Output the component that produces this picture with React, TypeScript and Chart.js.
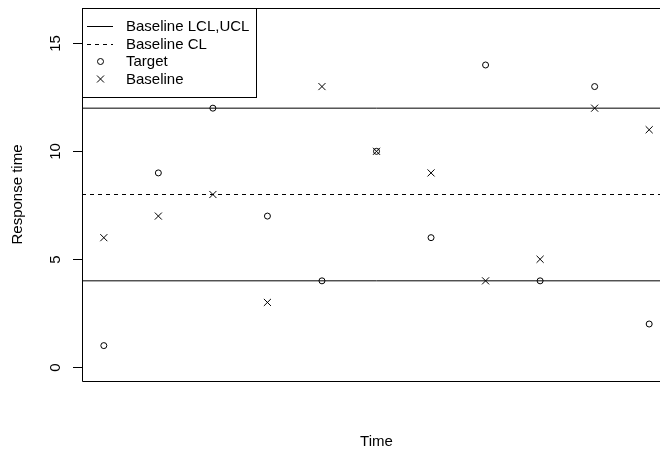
import React, { useEffect, useRef } from "react";
import { Chart, registerables } from "chart.js";

Chart.register(...registerables);

// ---- data ----
const timePoints = [1, 2, 3, 4, 5, 6, 7, 8, 9, 10, 11];
const targetValues = [1, 9, 12, 7, 4, 10, 6, 14, 4, 13, 2];
const baselineValues = [6, 7, 8, 3, 13, 10, 9, 4, 5, 12, 11];
const baselineLCL = 4;
const baselineCL = 8;
const baselineUCL = 12;
const yTickValues = [0, 5, 10, 15];
const legendLabels = ["Baseline LCL,UCL", "Baseline CL", "Target", "Baseline"];
const xAxisTitle = "Time";
const yAxisTitle = "Response time";

const X_MIN = 0.6;
const X_MAX = 11.4;
const Y_MIN = -0.64;
const Y_MAX = 16.64;

const FONT = '15px "Liberation Sans", Arial, Helvetica, sans-serif';

const rPlotPlugin = {
  id: "rPlot",
  afterDatasetsDraw(chart: any) {
    const { ctx, chartArea, scales } = chart;
    const ys = scales.y;
    ctx.save();
    // plot box
    ctx.strokeStyle = "#000";
    ctx.lineWidth = 1;
    ctx.beginPath();
    ctx.rect(
      Math.round(chartArea.left) + 0.5,
      Math.round(chartArea.top) + 0.5,
      chartArea.right - chartArea.left,
      Math.round(chartArea.bottom) - Math.round(chartArea.top)
    );
    ctx.stroke();

    // y ticks + labels
    ctx.font = FONT;
    ctx.fillStyle = "#000";
    for (const v of yTickValues) {
      const py = Math.round(ys.getPixelForValue(v)) + 0.5;
      ctx.beginPath();
      ctx.moveTo(chartArea.left - 9, py);
      ctx.lineTo(chartArea.left, py);
      ctx.stroke();
      ctx.save();
      ctx.translate(chartArea.left - 26, py);
      ctx.rotate(-Math.PI / 2);
      ctx.textAlign = "center";
      ctx.textBaseline = "middle";
      ctx.fillText(String(v), 0, 0);
      ctx.restore();
    }

    // axis titles
    ctx.save();
    ctx.translate(18, (chartArea.top + chartArea.bottom) / 2);
    ctx.rotate(-Math.PI / 2);
    ctx.textAlign = "center";
    ctx.textBaseline = "middle";
    ctx.fillText(yAxisTitle, 0, 0);
    ctx.restore();

    ctx.textAlign = "center";
    ctx.textBaseline = "middle";
    ctx.fillText(xAxisTitle, (chartArea.left + chartArea.right) / 2, 442);

    // legend
    const lx = Math.round(chartArea.left) + 0.5;
    const ly = Math.round(chartArea.top) + 0.5;
    const lw = 174;
    const lh = 89;
    ctx.fillStyle = "#fff";
    ctx.fillRect(lx, ly, lw, lh);
    ctx.strokeStyle = "#000";
    ctx.strokeRect(lx, ly, lw, lh);
    const rowY = [26, 44, 61.5, 79];
    ctx.fillStyle = "#000";
    ctx.textAlign = "left";
    ctx.textBaseline = "middle";
    legendLabels.forEach((label, i) => {
      const y = rowY[i];
      ctx.fillText(label, 126, y + 0.5);
      ctx.strokeStyle = "#000";
      ctx.lineWidth = 1;
      if (i === 0 || i === 1) {
        ctx.setLineDash(i === 1 ? [4, 4] : []);
        ctx.beginPath();
        ctx.moveTo(87, Math.round(y) + 0.5);
        ctx.lineTo(113, Math.round(y) + 0.5);
        ctx.stroke();
        ctx.setLineDash([]);
      } else if (i === 2) {
        ctx.beginPath();
        ctx.arc(100.5, y, 3, 0, Math.PI * 2);
        ctx.stroke();
      } else {
        ctx.beginPath();
        ctx.moveTo(97, y - 3.5);
        ctx.lineTo(104, y + 3.5);
        ctx.moveTo(97, y + 3.5);
        ctx.lineTo(104, y - 3.5);
        ctx.stroke();
      }
    });
    ctx.restore();
  },
};

function hLine(value: number) {
  return [
    { x: X_MIN, y: value },
    { x: X_MAX, y: value },
  ];
}

export default function App() {
  const ref = useRef<HTMLCanvasElement | null>(null);
  useEffect(() => {
    document.body.style.margin = "0";
    const canvas = ref.current!;
    const chart = new Chart(canvas, {
      type: "scatter",
      data: {
        datasets: [
          {
            type: "line",
            label: legendLabels[0],
            data: hLine(baselineUCL),
            borderColor: "#000",
            borderWidth: 1,
            pointRadius: 0,
            fill: false,
          },
          {
            type: "line",
            label: legendLabels[0],
            data: hLine(baselineLCL),
            borderColor: "#000",
            borderWidth: 1,
            pointRadius: 0,
            fill: false,
          },
          {
            type: "line",
            label: legendLabels[1],
            data: hLine(baselineCL),
            borderColor: "#000",
            borderWidth: 1,
            borderDash: [4, 4],
            pointRadius: 0,
            fill: false,
          },
          {
            label: legendLabels[2],
            data: timePoints.map((t, i) => ({ x: t, y: targetValues[i] })),
            pointStyle: "circle",
            pointRadius: 3,
            borderColor: "#000",
            backgroundColor: "rgba(0,0,0,0)",
            borderWidth: 1,
          },
          {
            label: legendLabels[3],
            data: timePoints.map((t, i) => ({ x: t, y: baselineValues[i] })),
            pointStyle: "crossRot",
            pointRadius: 5,
            borderColor: "#000",
            backgroundColor: "#000",
            borderWidth: 1,
          },
        ],
      },
      options: {
        responsive: false,
        animation: false,
        events: [],
        layout: { padding: { left: 82, top: 8, right: 29, bottom: 74 } },
        plugins: {
          legend: { display: false },
          tooltip: { enabled: false },
        },
        scales: {
          x: { type: "linear", min: X_MIN, max: X_MAX, display: false },
          y: { type: "linear", min: Y_MIN, max: Y_MAX, display: false },
        },
      },
      plugins: [rPlotPlugin],
    });
    return () => chart.destroy();
  }, []);
  return (
    <div
      style={{
        position: "absolute",
        left: 0,
        top: 0,
        width: 660,
        height: 455,
        overflow: "hidden",
        background: "#fff",
      }}
    >
      <canvas ref={ref} width={700} height={455} style={{ width: 700, height: 455, display: "block" }} />
    </div>
  );
}
